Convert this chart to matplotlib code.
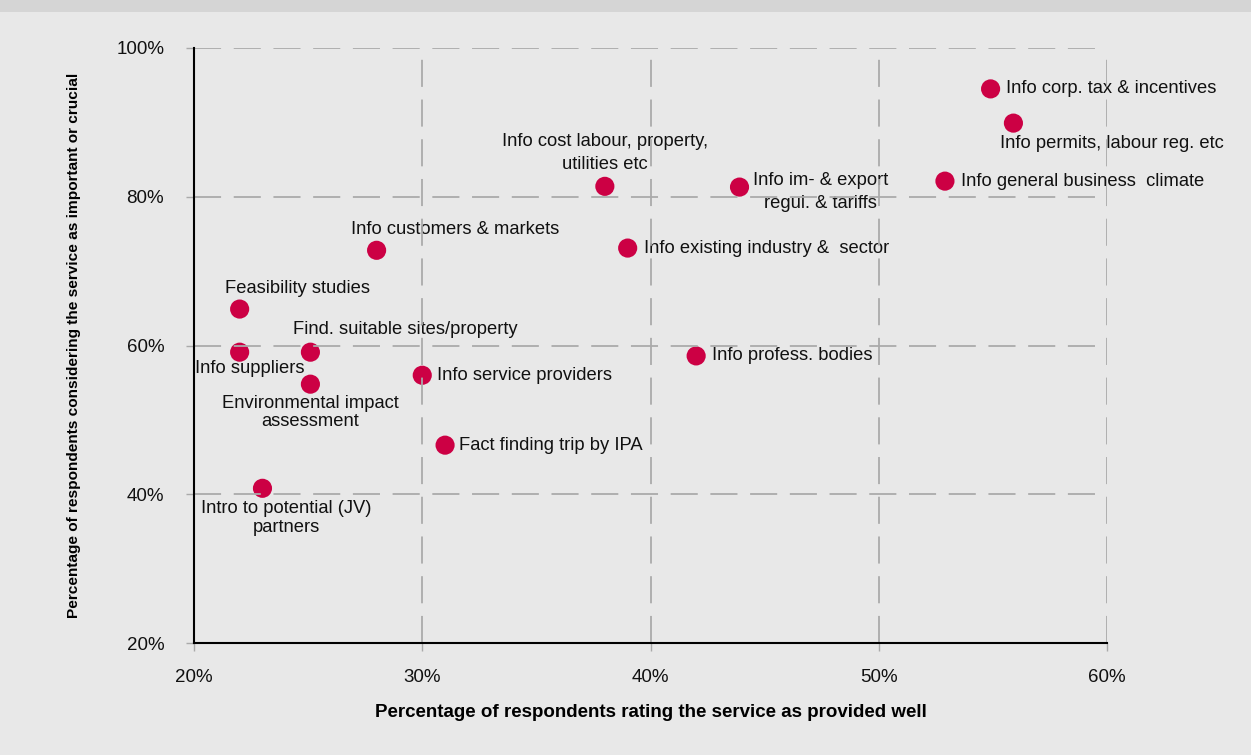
import matplotlib
matplotlib.use('Agg')
import matplotlib.pyplot as plt
from matplotlib.patches import Rectangle

plt.rcParams.update({
    'font.family': ['Liberation Sans', 'DejaVu Sans'],
    'font.size': 13,
    'figure.dpi': 100,
})

# data (percent)
names = [
    'Info corp. tax & incentives',
    'Info permits, labour reg. etc',
    'Info general business  climate',
    'Info im- & export\nregul. & tariffs',
    'Info cost labour, property,\nutilities etc',
    'Info existing industry &  sector',
    'Info customers & markets',
    'Feasibility studies',
    'Find. suitable sites/property',
    'Info suppliers',
    'Environmental impact\nassessment',
    'Info service providers',
    'Fact finding trip by IPA',
    'Intro to potential (JV)\npartners',
    'Info profess. bodies',
]
rated_well = [54.9, 55.9, 52.9, 43.9, 38.0, 39.0, 28.0, 22.0, 25.1, 22.0, 25.1, 30.0, 31.0, 23.0, 42.0]
important = [94.5, 89.9, 82.1, 81.3, 81.4, 73.1, 72.8, 64.9, 59.1, 59.1, 54.8, 56.0, 46.6, 40.8, 58.6]

x_ticks = [20, 30, 40, 50, 60]
y_ticks = [20, 40, 60, 80, 100]

# label placement: (dx px, dy px, ha, linespacing)
label_pos = {
    'Info corp. tax & incentives': (15, 0, 'left', 1.2),
    'Info permits, labour reg. etc': (98, -20, 'center', 1.2),
    'Info general business  climate': (16, 0, 'left', 1.2),
    'Info im- & export\nregul. & tariffs': (81, -5, 'center', 1.45),
    'Info cost labour, property,\nutilities etc': (0, 33, 'center', 1.45),
    'Info existing industry &  sector': (16, 0, 'left', 1.2),
    'Info customers & markets': (79, 21, 'center', 1.2),
    'Feasibility studies': (58, 21, 'center', 1.2),
    'Find. suitable sites/property': (95, 23, 'center', 1.2),
    'Info suppliers': (10, -16, 'center', 1.2),
    'Environmental impact\nassessment': (0, -28, 'center', 1.05),
    'Info service providers': (15, 0, 'left', 1.2),
    'Fact finding trip by IPA': (14, 0, 'left', 1.2),
    'Intro to potential (JV)\npartners': (24, -30, 'center', 1.15),
    'Info profess. bodies': (16, 0, 'left', 1.2),
}

fig = plt.figure(figsize=(12.51, 7.55), facecolor='#e8e8e8')
fig.patches.append(Rectangle((0, 1 - 12 / 755), 1, 12 / 755, transform=fig.transFigure,
                             facecolor='#d5d5d5', edgecolor='none'))
ax = fig.add_axes([194 / 1251, 112 / 755, 913 / 1251, 595 / 755])
ax.set_facecolor('#e8e8e8')

ax.scatter(rated_well, important, s=190, color='#cc0044', edgecolors='none', zorder=3)

for n, x, y in zip(names, rated_well, important):
    dx, dy, ha, ls = label_pos[n]
    ax.annotate(n, (x, y), xytext=(dx, dy), textcoords='offset pixels',
                ha=ha, va='center', fontsize=13.2, color='#111111', zorder=4,
                linespacing=ls)

for v in x_ticks[1:]:
    ax.axvline(v, color='#aaaaaa', linestyle=(0, (15, 7)), linewidth=1.3, zorder=5)
for v in y_ticks[1:]:
    ax.axhline(v, color='#aaaaaa', linestyle=(0, (15, 7)), linewidth=1.3, zorder=5)

ax.set_xlim(20, 60)
ax.set_ylim(20, 100)
ax.set_xticks(x_ticks)
ax.set_yticks(y_ticks)
ax.set_xticklabels([f'{v}%' for v in x_ticks])
ax.set_yticklabels([f'{v}%' for v in y_ticks])
ax.tick_params(axis='both', length=6, width=1, color='#aaaaaa', labelsize=13.5,
               labelcolor='#111111')
ax.tick_params(axis='x', pad=13)
ax.tick_params(axis='y', pad=15.5)

for s in ['top', 'right']:
    ax.spines[s].set_visible(False)
for s in ['left', 'bottom']:
    ax.spines[s].set_color('black')
    ax.spines[s].set_linewidth(1.5)
    ax.spines[s].set_zorder(6)

ax.set_xlabel('Percentage of respondents rating the service as provided well',
              fontsize=13.5, fontweight='bold', labelpad=13)
ax.set_ylabel('Percentage of respondents considering the service as important or crucial',
              fontsize=11.1, fontweight='bold', labelpad=25)

fig.savefig('out.png', dpi=100, facecolor=fig.get_facecolor())
